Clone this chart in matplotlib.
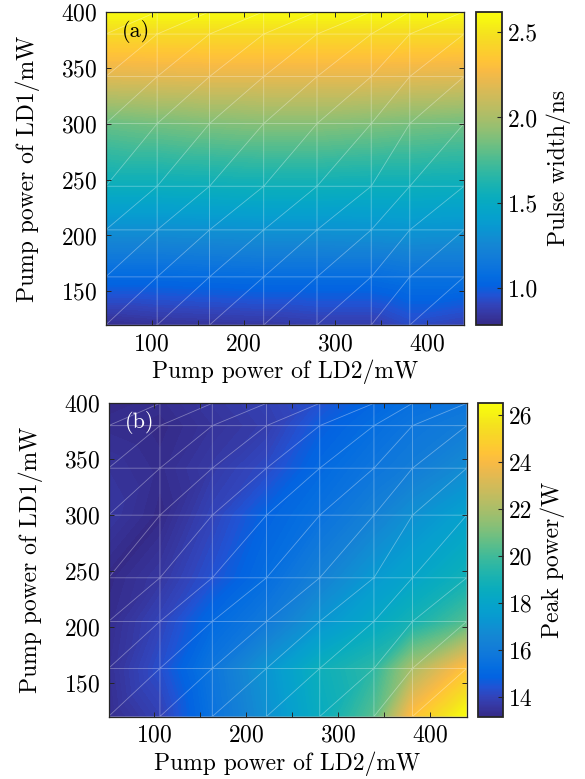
import numpy as np
import matplotlib
matplotlib.use("Agg")
import matplotlib.pyplot as plt
import matplotlib.tri as mtri
from matplotlib.colors import LinearSegmentedColormap, Normalize
from matplotlib.ticker import FixedLocator, FormatStrFormatter
import matplotlib.cm as cm

# ---------------- data ----------------
ld2_power = [50, 106, 163, 222, 280, 339, 381, 440]          # x, mW
ld1_power = [120, 163, 205, 244, 300, 342, 380, 400]         # y, mW

# pulse width (ns), rows follow ld1_power, columns follow ld2_power
pw_120 = [0.80, 0.82, 0.83, 0.84, 0.86, 0.86, 0.92, 0.88]
pw_163 = [1.05, 1.05, 1.06, 1.07, 1.07, 1.07, 1.10, 1.10]
pw_205 = [1.30, 1.30, 1.31, 1.32, 1.32, 1.33, 1.34, 1.33]
pw_244 = [1.53, 1.53, 1.54, 1.55, 1.55, 1.54, 1.54, 1.53]
pw_300 = [1.82, 1.85, 1.88, 1.90, 1.90, 1.88, 1.86, 1.84]
pw_342 = [2.18, 2.19, 2.20, 2.20, 2.20, 2.20, 2.19, 2.18]
pw_380 = [2.45, 2.45, 2.45, 2.45, 2.45, 2.45, 2.45, 2.45]
pw_400 = [2.60, 2.60, 2.60, 2.60, 2.60, 2.60, 2.60, 2.60]
pulse_width = [pw_120, pw_163, pw_205, pw_244, pw_300, pw_342, pw_380, pw_400]

# peak power (W)
pp_120 = [13.3, 13.9, 15.5, 17.0, 18.5, 20.4, 24.3, 26.5]
pp_163 = [13.4, 14.3, 15.7, 17.2, 18.7, 19.6, 22.0, 24.4]
pp_205 = [13.3, 14.0, 15.1, 15.9, 17.2, 18.2, 19.0, 20.3]
pp_244 = [13.2, 13.6, 14.4, 15.3, 16.3, 17.4, 18.0, 18.9]
pp_300 = [13.6, 13.2, 14.0, 14.9, 15.5, 16.3, 17.0, 17.8]
pp_342 = [13.5, 13.3, 13.7, 14.2, 15.1, 15.7, 16.1, 16.8]
pp_380 = [13.3, 13.2, 13.5, 13.8, 14.7, 15.3, 15.7, 16.1]
pp_400 = [13.2, 13.3, 13.6, 13.9, 14.4, 15.0, 15.4, 15.7]
peak_power = [pp_120, pp_163, pp_205, pp_244, pp_300, pp_342, pp_380, pp_400]

pw_ticks = [1.0, 1.5, 2.0, 2.5]
pp_ticks = [14, 16, 18, 20, 22, 24, 26]
pw_range = (0.78, 2.62)
pp_range = (13.17, 26.5)

# ---------------- parula colormap ----------------
parula_data = [
    [0.2081, 0.1663, 0.5292], [0.2123, 0.2138, 0.6270], [0.1959, 0.2645, 0.7279],
    [0.1253, 0.3242, 0.8303], [0.0117, 0.3875, 0.8820], [0.0165, 0.4266, 0.8786],
    [0.0498, 0.4586, 0.8641], [0.0723, 0.4887, 0.8467], [0.0793, 0.5200, 0.8312],
    [0.0641, 0.5570, 0.8240], [0.0343, 0.5966, 0.8199], [0.0239, 0.6287, 0.8038],
    [0.0228, 0.6535, 0.7768], [0.0384, 0.6743, 0.7436], [0.0843, 0.6928, 0.7062],
    [0.1453, 0.7098, 0.6646], [0.2178, 0.7250, 0.6193], [0.3022, 0.7376, 0.5712],
    [0.3953, 0.7459, 0.5244], [0.4871, 0.7491, 0.4840], [0.5709, 0.7485, 0.4494],
    [0.6473, 0.7456, 0.4188], [0.7184, 0.7411, 0.3905], [0.7858, 0.7356, 0.3633],
    [0.8507, 0.7299, 0.3360], [0.9139, 0.7258, 0.3063], [0.9739, 0.7314, 0.2666],
    [0.9990, 0.7653, 0.2164], [0.9880, 0.8066, 0.1794], [0.9697, 0.8481, 0.1475],
    [0.9589, 0.8949, 0.1132], [0.9661, 0.9514, 0.0755], [0.9763, 0.9831, 0.0538],
]
parula = LinearSegmentedColormap.from_list("parula", parula_data, N=256)

# ---------------- style ----------------
plt.rcParams["font.family"] = "serif"
plt.rcParams["font.serif"] = ["cmr10", "DejaVu Serif"]
plt.rcParams["mathtext.fontset"] = "cm"
plt.rcParams["axes.unicode_minus"] = False
plt.rcParams["axes.formatter.use_mathtext"] = True
FS = 17

fig = plt.figure(figsize=(5.85, 7.79), dpi=100)

W, H = 585.0, 779.0
def box(l, t, r, b):
    return [l / W, 1 - b / H, (r - l) / W, (b - t) / H]

X, Y = np.meshgrid(ld2_power, ld1_power)
nx, ny = len(ld2_power), len(ld1_power)
tris = []
for j in range(ny - 1):
    for i in range(nx - 1):
        a = j * nx + i
        tris.append([a, a + 1, a + nx + 1])
        tris.append([a, a + nx + 1, a + nx])
tri = mtri.Triangulation(X.ravel(), Y.ravel(), np.array(tris))

panels = [
    dict(z=pulse_width, rng=pw_range, ticks=pw_ticks, fmt="%.1f",
         clabel="Pulse width/ns", tag="(a)", tagc="black",
         ax=box(105.7, 11.7, 464, 325), cax=box(476, 12, 502, 325)),
    dict(z=peak_power, rng=pp_range, ticks=pp_ticks, fmt="%d",
         clabel="Peak power/W", tag="(b)", tagc="white",
         ax=box(108.5, 403.3, 466.7, 716.5), cax=box(478, 403.3, 503, 717)),
]

spine_c = "#262626"
for p in panels:
    ax = fig.add_axes(p["ax"])
    z = np.array(p["z"]).ravel()
    vmin, vmax = p["rng"]
    levels = np.linspace(vmin, vmax, 160)
    ax.tricontourf(tri, z, levels=levels, cmap=parula, vmin=vmin, vmax=vmax,
                   extend="both")
    ax.triplot(tri, color="white", lw=0.6, alpha=0.35)
    ax.set_xlim(50, 440)
    ax.set_ylim(120, 400)
    ax.xaxis.set_major_locator(FixedLocator([100, 200, 300, 400]))
    ax.xaxis.set_minor_locator(FixedLocator([150, 250, 350]))
    ax.yaxis.set_major_locator(FixedLocator([150, 200, 250, 300, 350, 400]))
    ax.tick_params(which="both", direction="in", top=True, right=True,
                   length=3.5, width=0.7, color=spine_c, labelsize=FS, pad=6)
    for s in ax.spines.values():
        s.set_color(spine_c)
        s.set_linewidth(0.9)
    ax.set_xlabel("Pump power of LD2/mW", fontsize=FS, labelpad=3)
    ax.set_ylabel("Pump power of LD1/mW", fontsize=FS, labelpad=15)
    ax.text(0.045, 0.975, p["tag"], transform=ax.transAxes, ha="left", va="top",
            fontsize=FS - 1, color=p["tagc"])

    cax = fig.add_axes(p["cax"])
    sm = cm.ScalarMappable(norm=Normalize(vmin, vmax), cmap=parula)
    cb = fig.colorbar(sm, cax=cax)
    cb.set_ticks(p["ticks"])
    cb.ax.yaxis.set_major_formatter(FormatStrFormatter(p["fmt"]))
    cb.ax.tick_params(direction="in", length=3.5, width=0.8, color=spine_c,
                      labelsize=FS, pad=4)
    cb.outline.set_edgecolor(spine_c)
    cb.outline.set_linewidth(1.3)
    cb.set_label(p["clabel"], fontsize=FS, labelpad=6)

fig.savefig("out.png", dpi=100)
